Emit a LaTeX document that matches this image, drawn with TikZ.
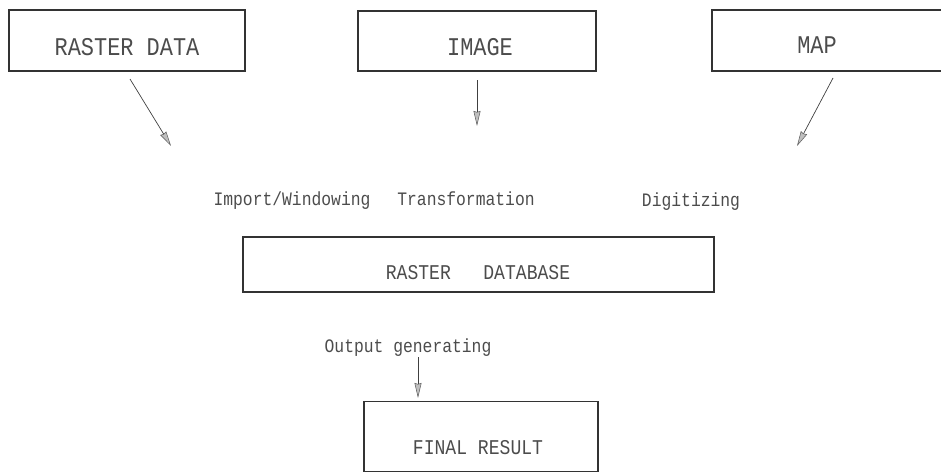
\documentclass[tikz,border=0pt]{standalone}
\usepackage{fontspec}
\setmonofont[FakeStretch=0.86]{Liberation Mono}
\usetikzlibrary{arrows.meta}
\tikzset{
  box/.style={draw=black!80, line width=1.2pt, inner sep=0pt},
  boxtxt/.style={font=\ttfamily\fontsize{25.5}{25.5}\selectfont, text=black!70, inner sep=0pt, anchor=base},
  midtxt/.style={font=\ttfamily\fontsize{21}{21}\selectfont, text=black!70, inner sep=0pt, anchor=base},
  lbl/.style={font=\ttfamily\fontsize{19}{19}\selectfont, text=black!70, inner sep=0pt, anchor=base},
  flow/.style={draw=black!75, line width=0.7pt,
    -{Stealth[length=15pt, width=7pt, inset=1pt, fill=black!25, color=black!65, line width=0.5pt]}}
}
\begin{document}
\begin{tikzpicture}[x=1pt, y=-1pt]
  \useasboundingbox (0,0) rectangle (941,472);
  \clip (0,0) rectangle (941,472);

  % source boxes
  \node[box, minimum width=236, minimum height=61] (raster) at (127,40.5) {};
  \node[boxtxt] (rastert) at (127,55) {RASTER DATA};
  \node[box, minimum width=238, minimum height=60] (image) at (477,41) {};
  \node[boxtxt] (imaget) at (480,55) {IMAGE};
  \node[box, minimum width=244, minimum height=61] (map) at (834,40.5) {};
  \node[boxtxt] (mapt) at (817,53) {MAP};

  % process labels
  \node[lbl] (imp) at (292,205) {Import/Windowing};
  \node[lbl] (trans) at (466,205) {Transformation};
  \node[lbl] (dig) at (691,206) {Digitizing};

  % database
  \node[box, minimum width=471, minimum height=55] (db) at (478.5,264.5) {};
  \node[midtxt] (dbt) at (478,279) {RASTER\ \ \ DATABASE};

  % output
  \node[lbl] (out) at (408,352) {Output generating};
  \node[box, minimum width=234, minimum height=70.5] (final) at (481,436.5) {};
  \node[midtxt] (finalt) at (478,454) {FINAL RESULT};

  % connector end points
  \coordinate (a1s) at (130,79);
  \coordinate (a1e) at (171,146);
  \coordinate (a2s) at (477,80);
  \coordinate (a2e) at (477,126);
  \coordinate (a3s) at (833,78);
  \coordinate (a3e) at (797,146);
  \coordinate (a4s) at (418,357);
  \coordinate (a4e) at (418,398);

  \draw[flow] (a1s) -- (a1e);
  \draw[flow] (a2s) -- (a2e);
  \draw[flow] (a3s) -- (a3e);
  \draw[flow] (a4s) -- (a4e);
\end{tikzpicture}
\end{document}
